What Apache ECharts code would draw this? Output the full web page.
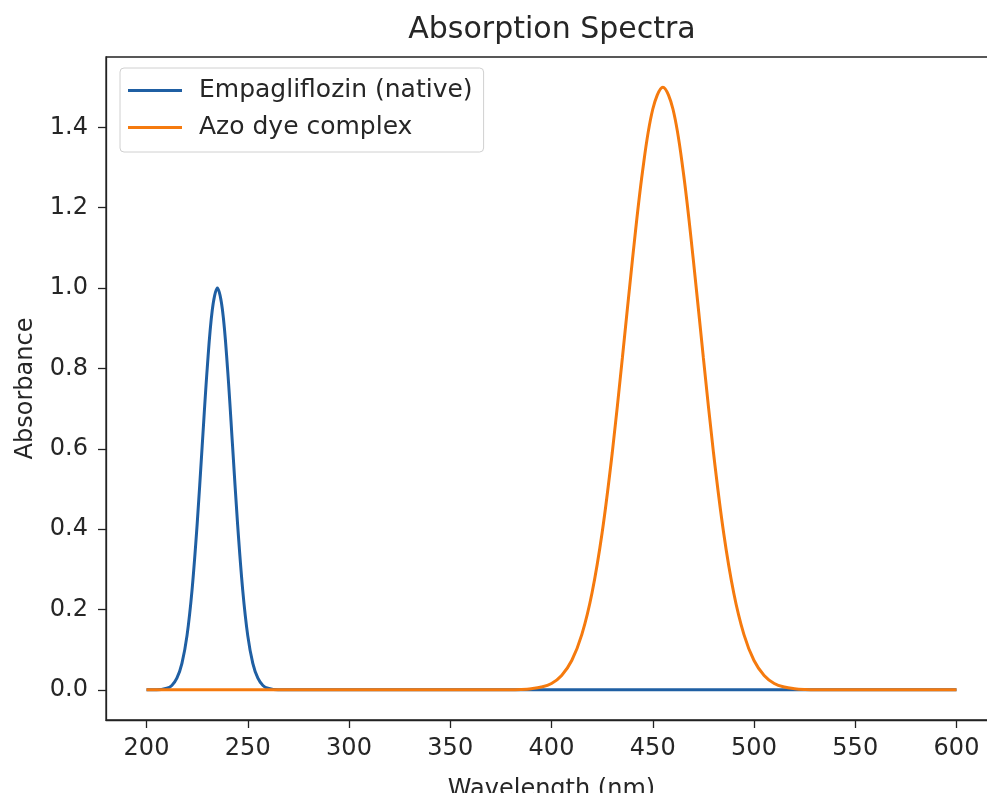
<!DOCTYPE html>
<html>
<head>
<meta charset="utf-8">
<script src="https://cdn.jsdelivr.net/npm/echarts@6/dist/echarts.min.js"></script>
<style>
html, body { margin: 0; padding: 0; background: #fff; }
#chart { width: 987px; height: 793px; }
</style>
</head>
<body>
<div id="chart"></div>
<script>
// wavelengths (nm) and absorbance
var waveNative = [200, 205, 210, 212.5, 215, 217.5, 220, 222.5, 225, 227.5, 230, 232.5, 235,
	237.5, 240, 242.5, 245, 247.5, 250, 252.5, 255, 257.5, 260, 265, 270, 300, 400, 500, 600];
var absNative = [0, 0, 0.004, 0.011, 0.029, 0.066, 0.135, 0.249, 0.411, 0.607, 0.801, 0.946, 1.0,
	0.946, 0.801, 0.607, 0.411, 0.249, 0.135, 0.066, 0.029, 0.011, 0.004, 0, 0, 0, 0, 0, 0];

var waveAzo = [200, 300, 370, 380, 385, 390, 395, 400, 405, 410, 415, 420, 425, 430, 435, 440, 445, 450, 455,
	460, 465, 470, 475, 480, 485, 490, 495, 500, 505, 510, 515, 520, 525, 530, 540, 600];
var absAzo = [0, 0, 0, 0, 0.001, 0.003, 0.007, 0.016, 0.036, 0.073, 0.138, 0.241, 0.391, 0.590, 0.826, 1.072, 1.292, 1.445, 1.5,
	1.445, 1.292, 1.072, 0.826, 0.590, 0.391, 0.241, 0.138, 0.073, 0.036, 0.016, 0.007, 0.003, 0.001, 0, 0, 0];

var xTicks = [200, 250, 300, 350, 400, 450, 500, 550, 600];
var yTicks = [0, 0.2, 0.4, 0.6, 0.8, 1.0, 1.2, 1.4];

function pairs(xs, ys) {
	var out = [];
	for (var i = 0; i < xs.length; i++) {
		out.push([xs[i], ys[i]]);
	}
	return out;
}

var txt = '#262626';
var fontFam = 'DejaVu Sans';

var chart = echarts.init(document.getElementById('chart'));
var option = {
	animation: false,
	backgroundColor: '#fff',
	title: {
		text: 'Absorption Spectra',
		left: 547,
		top: 10,
		textAlign: 'center',
		textStyle: { fontFamily: fontFam, fontSize: 30, fontWeight: 'normal', color: txt }
	},
	legend: {
		orient: 'vertical',
		left: 120,
		top: 68,
		padding: [10, 11, 12, 8],
		itemWidth: 54,
		itemHeight: 3,
		itemGap: 12,
		icon: 'rect',
		borderColor: '#d0d0d0',
		borderWidth: 1,
		borderRadius: 4,
		textStyle: { fontFamily: fontFam, fontSize: 25, color: txt, padding: [0, 0, 0, 12] },
		data: ['Empagliflozin (native)', 'Azo dye complex']
	},
	grid: {
		left: 106,
		top: 57,
		width: 891,
		bottom: 73,
		outerBoundsMode: 'none',
		containLabel: false,
		show: true,
		borderColor: '#222',
		borderWidth: 1.3
	},
	xAxis: {
		type: 'value',
		min: 180,
		max: 620,
		name: 'Wavelength (nm)',
		nameLocation: 'middle',
		nameGap: 58,
		nameTextStyle: { fontFamily: fontFam, fontSize: 24, color: txt },
		splitLine: { show: false },
		axisLine: { show: true, onZero: false, lineStyle: { color: '#222', width: 1.3 } },
		axisTick: { show: true, length: 8, customValues: xTicks, lineStyle: { color: '#222', width: 1.3 } },
		axisLabel: { customValues: xTicks, margin: 17, fontFamily: fontFam, fontSize: 24, color: txt }
	},
	yAxis: {
		type: 'value',
		min: -0.075,
		max: 1.575,
		name: 'Absorbance',
		nameLocation: 'middle',
		nameGap: 68,
		nameTextStyle: { fontFamily: fontFam, fontSize: 24, color: txt },
		splitLine: { show: false },
		axisLine: { show: true, onZero: false, lineStyle: { color: '#222', width: 1.3 } },
		axisTick: { show: true, length: 8, customValues: yTicks, lineStyle: { color: '#222', width: 1.3 } },
		axisLabel: {
			customValues: yTicks, margin: 18, fontFamily: fontFam, fontSize: 24, color: txt,
			formatter: function(v) { return v.toFixed(1); }
		}
	},
	series: [
		{
			name: 'Empagliflozin (native)',
			type: 'line',
			data: pairs(waveNative, absNative),
			smooth: 0.35,
			symbol: 'none',
			color: '#1f5fa3',
			lineStyle: { width: 3, color: '#1f5fa3' },
			z: 2
		},
		{
			name: 'Azo dye complex',
			type: 'line',
			data: pairs(waveAzo, absAzo),
			smooth: 0.35,
			symbol: 'none',
			color: '#f57a0e',
			lineStyle: { width: 3, color: '#f57a0e' },
			z: 3
		}
	]
};
chart.setOption(option);
</script>
</body>
</html>
